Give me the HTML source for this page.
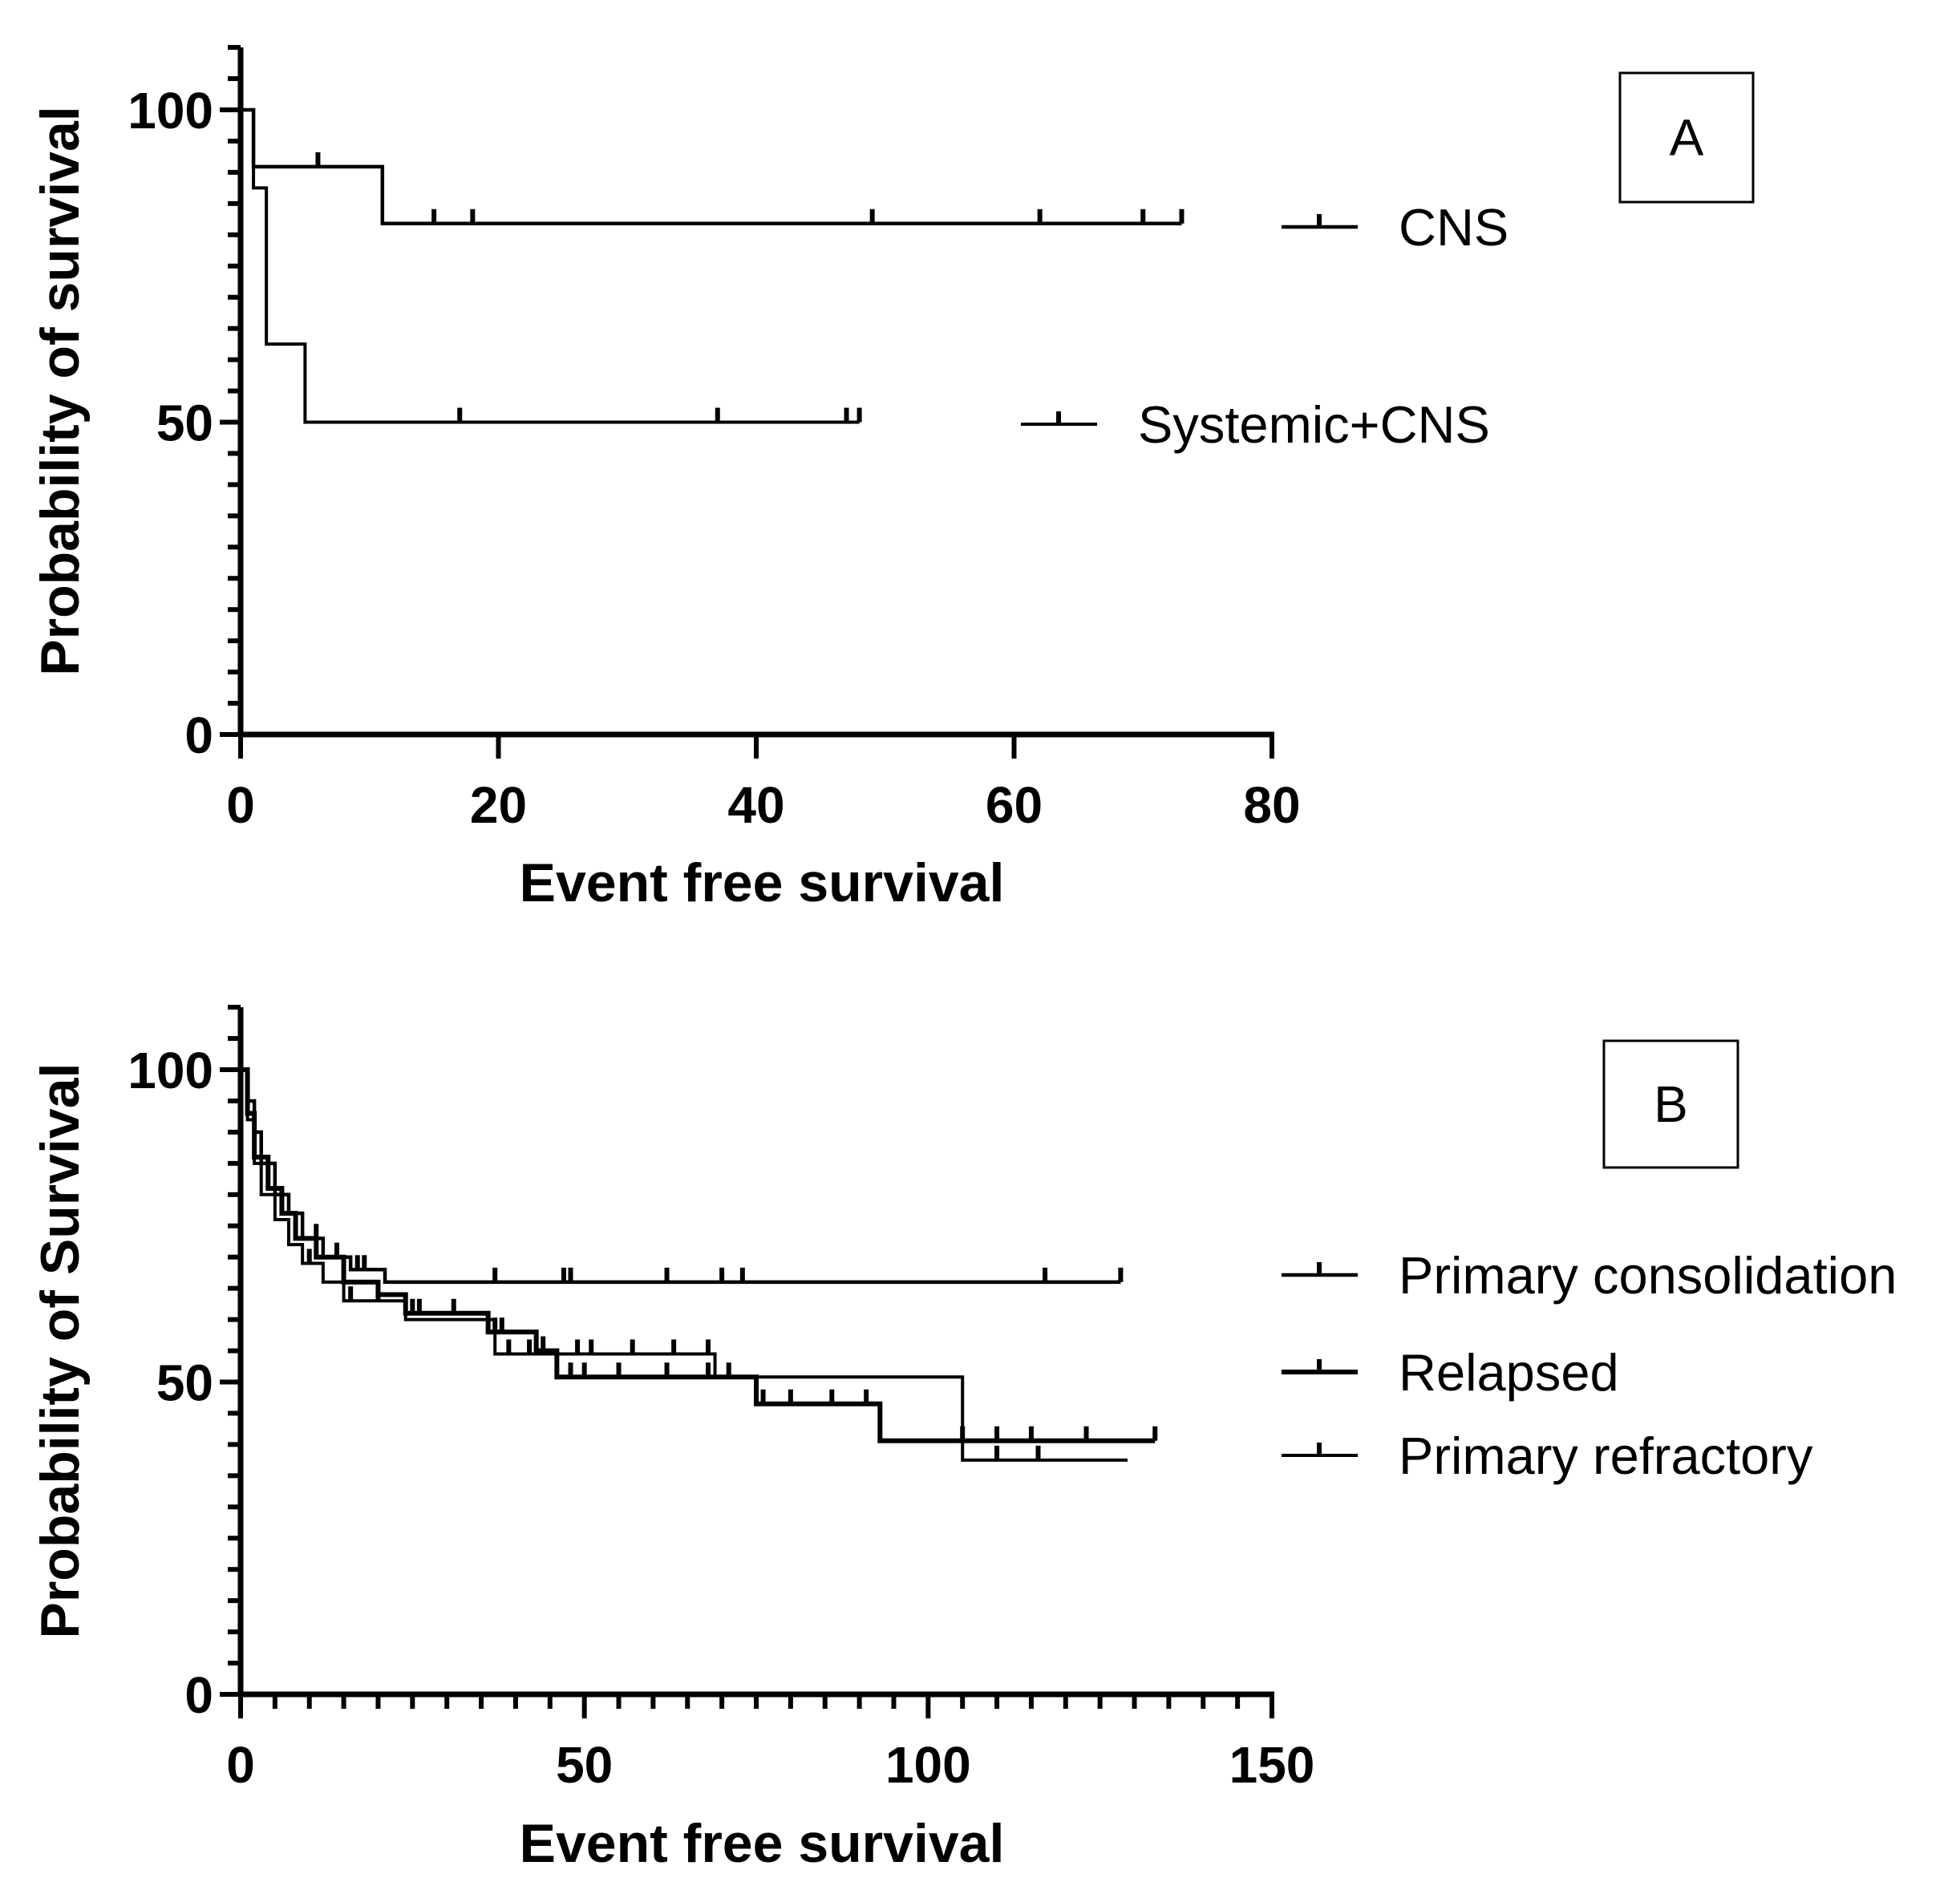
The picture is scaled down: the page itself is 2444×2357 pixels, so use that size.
<!DOCTYPE html>
<html><head><meta charset="utf-8"><style>
html,body{margin:0;padding:0;background:#fff}
svg{display:block}
text{font-family:"Liberation Sans",Arial,sans-serif;fill:#000}
</style></head><body>
<svg id="chart" width="2444" height="2357" viewBox="0 0 2444 2357" xmlns="http://www.w3.org/2000/svg"></svg>
<script>
// Panel A data
const aCnsTimes = [0, 1, 11];
const aCnsLevels = [100, 90.9, 81.8];
const aCnsEnd = 73;
const aCnsCensors = [6, 15, 18, 49, 62, 70, 73];
const aSysTimes = [0, 1, 2, 5];
const aSysLevels = [100, 87.5, 62.5, 50];
const aSysEnd = 48;
const aSysCensors = [17, 37, 47, 48];
const aXTicks = [0, 20, 40, 60, 80];
const aYTicks = [0, 50, 100];
// Panel B data
const bPcTimes = [0, 1, 2, 3, 5, 7, 9, 12, 16, 21];
const bPcLevels = [100, 95, 90, 85, 80, 77, 73, 70, 68, 66];
const bPcEnd = 128;
const bPcCensors = [11, 14, 17, 18, 37, 47, 48, 62, 70, 73, 117, 128];
const bRelTimes = [0, 1, 2, 4, 6, 8, 11, 15, 20, 24, 36, 43, 46, 75, 93];
const bRelLevels = [100, 93, 86, 81, 77, 73, 70, 66, 64, 61, 58, 55, 50.8, 46.5, 40.6];
const bRelEnd = 133;
const bRelCensors = [25, 26, 31, 37, 38, 44, 48, 50, 55, 62, 68, 71, 76, 80, 86, 91, 105, 110, 115, 123, 133];
const bRefTimes = [0, 1, 2, 3, 5, 7, 9, 12, 15, 24, 37, 69, 105];
const bRefLevels = [100, 92, 85, 80, 76, 72, 69, 66, 63, 60, 54.5, 50.8, 37.5];
const bRefEnd = 129;
const bRefCensors = [10, 16, 20, 39, 42, 49, 51, 57, 63, 68, 110, 116];
const bXTicks = [0, 50, 100, 150];
const bYTicks = [0, 50, 100];

const svg = document.getElementById('chart');
const NS = 'http://www.w3.org/2000/svg';
function mk(tag, attrs, parent) {
  const e = document.createElementNS(NS, tag);
  for (const k in attrs) e.setAttribute(k, attrs[k]);
  (parent || svg).appendChild(e);
  return e;
}
function levelAt(times, levels, t) {
  let v = levels[0];
  for (let i = 0; i < times.length; i++) if (times[i] <= t) v = levels[i];
  return v;
}
function drawPanel(cfg) {
  const g = mk('g', {});
  
  
  const sx = t => cfg.x0 + (t / cfg.xMax) * (cfg.x1 - cfg.x0);
  const sy = p => cfg.y0 - (p / 100) * (cfg.y0 - cfg.y100);
  const yTop = sy(110);
  const ya = mk('line', {x1: cfg.x0, y1: yTop, x2: cfg.x0, y2: cfg.y0 + 3, stroke: '#000', 'stroke-width': 7}, g);
  
  
  for (let p = 0; p <= 110; p += 5) {
    const major = p % 50 === 0;
    const tk = mk('line', {x1: cfg.x0 - (major ? 26 : 16), y1: sy(p), x2: cfg.x0, y2: sy(p), stroke: '#000', 'stroke-width': 6}, g);
    
    
  }
  cfg.yTicks.forEach(v => {
    const t = mk('text', {x: cfg.x0 - 34, y: sy(v) + 23, 'text-anchor': 'end', 'font-size': 64, 'font-weight': 'bold'}, g);
    t.textContent = v;
    
    
  });
  const xa = mk('line', {x1: cfg.x0 - 3, y1: cfg.y0, x2: cfg.x1 + 3, y2: cfg.y0, stroke: '#000', 'stroke-width': 7}, g);
  
  
  for (let t = 0; t <= cfg.xMax; t += cfg.minorStep) {
    const major = cfg.xTicks.indexOf(t) >= 0;
    const tk = mk('line', {x1: sx(t), y1: cfg.y0, x2: sx(t), y2: cfg.y0 + (major ? 30 : 18), stroke: '#000', 'stroke-width': 6}, g);
    
    
  }
  cfg.xTicks.forEach(v => {
    const t = mk('text', {x: sx(v), y: cfg.y0 + 110, 'text-anchor': 'middle', 'font-size': 64, 'font-weight': 'bold'}, g);
    t.textContent = v;
    
    
  });
  const xt = mk('text', {x: 950, y: cfg.xTitleY, 'text-anchor': 'middle', 'font-size': 68, 'font-weight': 'bold'}, g);
  xt.textContent = 'Event free survival';
  
  
  const ycy = (yTop + cfg.y0) / 2;
  const yt = mk('text', {x: 74, y: ycy, 'text-anchor': 'middle', 'font-size': 68, 'font-weight': 'bold', transform: 'rotate(-90 74 ' + ycy + ') translate(0 24)'}, g);
  yt.textContent = cfg.yTitle;
  
  
  cfg.series.forEach(s => {
    let d = 'M' + sx(s.times[0]) + ' ' + sy(s.levels[0]);
    for (let i = 1; i < s.times.length; i++) {
      d += ' H' + sx(s.times[i]) + ' V' + sy(s.levels[i]);
    }
    d += ' H' + sx(s.end);
    const path = mk('path', {d: d, fill: 'none', stroke: '#000', 'stroke-width': s.w}, g);
    
    
    s.censors.forEach(c => {
      const y = sy(levelAt(s.times, s.levels, c));
      const m = mk('line', {x1: sx(c), y1: y, x2: sx(c), y2: y - 18, stroke: '#000', 'stroke-width': 6}, g);
      
      
    });
    const lx = s.legX;
    const ll = mk('line', {x1: lx, y1: s.legY, x2: lx + 95, y2: s.legY, stroke: '#000', 'stroke-width': s.w}, g);
    
    
    const lm = mk('line', {x1: lx + 47, y1: s.legY, x2: lx + 47, y2: s.legY - 16, stroke: '#000', 'stroke-width': 6}, g);
    
    
    const lt = mk('text', {x: lx + 146, y: s.legY + 23, 'font-size': 65}, g);
    lt.textContent = s.label;
    
    
  });
  const b = cfg.box;
  const r = mk('rect', {x: b.x, y: b.y, width: b.w, height: b.h, fill: 'none', stroke: '#000', 'stroke-width': 3}, g);
  
  
  const bt = mk('text', {x: b.x + b.w / 2, y: b.y + b.h / 2 + 22, 'text-anchor': 'middle', 'font-size': 64}, g);
  bt.textContent = cfg.letter;
  
  
}
drawPanel({
  name: 'panel-a', letter: 'A', x0: 300, x1: 1586, xMax: 80, y0: 916, y100: 137,
  minorStep: 20, xTicks: aXTicks, yTicks: aYTicks, xTitleY: 1124, yTitle: 'Probability of survival',
  box: {x: 2020, y: 91, w: 166, h: 161},
  series: [
    {name: 'cns', label: 'CNS', times: aCnsTimes, levels: aCnsLevels, end: aCnsEnd, censors: aCnsCensors, w: 4.5, legX: 1598, legY: 283},
    {name: 'systemic-cns', label: 'Systemic+CNS', times: aSysTimes, levels: aSysLevels, end: aSysEnd, censors: aSysCensors, w: 4, legX: 1273, legY: 529}
  ]
});
drawPanel({
  name: 'panel-b', letter: 'B', x0: 300, x1: 1586, xMax: 150, y0: 2113, y100: 1334,
  minorStep: 5, xTicks: bXTicks, yTicks: bYTicks, xTitleY: 2322, yTitle: 'Probability of Survival',
  box: {x: 2000, y: 1298, w: 167, h: 158},
  series: [
    {name: 'primary-consolidation', label: 'Primary consolidation', times: bPcTimes, levels: bPcLevels, end: bPcEnd, censors: bPcCensors, w: 4.5, legX: 1598, legY: 1590},
    {name: 'relapsed', label: 'Relapsed', times: bRelTimes, levels: bRelLevels, end: bRelEnd, censors: bRelCensors, w: 6, legX: 1598, legY: 1711},
    {name: 'primary-refractory', label: 'Primary refractory', times: bRefTimes, levels: bRefLevels, end: bRefEnd, censors: bRefCensors, w: 4, legX: 1598, legY: 1815}
  ]
});
</script>
</body></html>
